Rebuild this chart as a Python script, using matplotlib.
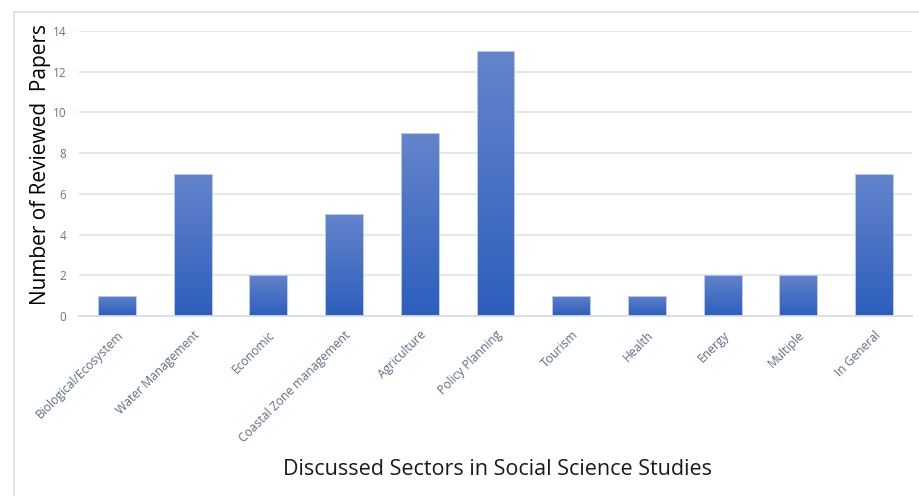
import matplotlib
matplotlib.use("Agg")
import matplotlib.pyplot as plt
import numpy as np
from matplotlib.patches import Rectangle

sectors = ["Biological/Ecosystem", "Water Management", "Economic",
           "Coastal Zone management", "Agriculture", "Policy Planning",
           "Tourism", "Health", "Energy", "Multiple", "In General"]
papers = [1, 7, 2, 5, 9, 13, 1, 1, 2, 2, 7]
y_ticks = [0, 2, 4, 6, 8, 10, 12, 14]

plt.rcParams['font.family'] = ['Open Sans', 'DejaVu Sans']

fig = plt.figure(figsize=(9.2, 4.96), dpi=100)
ax = fig.add_axes([0.0859, 0.3629, 0.9054, 0.5746])

# outer chart frame
fig.patches.append(Rectangle((14 / 920, -0.1), 1.0, 1 - 12 / 496 + 0.1,
                             transform=fig.transFigure, fill=False,
                             edgecolor="#d9dde6", linewidth=1.2))

x = np.arange(len(sectors))
width = 0.5
bars = ax.bar(x, papers, width=width, color="none",
              edgecolor="#bccbec", linewidth=0.7, zorder=3)

# vertical gradient fill inside each bar, clipped to the bar outline
grad = np.linspace(0, 1, 256).reshape(-1, 1)
cmap = matplotlib.colors.LinearSegmentedColormap.from_list(
    "barfill", ["#2d5ebd", "#6585cb"])
for rect in bars:
    x0 = rect.get_x()
    h = rect.get_height()
    im = ax.imshow(grad, extent=[x0 - 0.05, x0 + rect.get_width() + 0.05,
                                 0, h + 0.1],
                   origin="lower", aspect="auto", cmap=cmap, zorder=2,
                   interpolation="bilinear")
    im.set_clip_path(rect)

ax.set_xlim(-0.5, len(sectors) - 0.5)
ax.set_ylim(0, 14)
ax.set_yticks(y_ticks)
ax.yaxis.grid(True, color="#e1e5ed", linewidth=1.3, zorder=0)
ax.set_axisbelow(True)
for side in ["top", "right", "left"]:
    ax.spines[side].set_visible(False)
ax.spines["bottom"].set_color("#d9dde6")
ax.spines["bottom"].set_linewidth(1.3)
ax.tick_params(axis="both", length=0, colors="#66768f", labelsize=8.5)
ax.tick_params(axis="y", pad=9)

ax.set_xticks(x)
ax.set_xticklabels(sectors, rotation=45, ha="right", va="top",
                   rotation_mode="anchor", color="#5d6d87", fontsize=8.7)
ax.tick_params(axis="x", pad=9)

ax.set_ylabel("Number of Reviewed  Papers", fontsize=15, color="black")
ax.yaxis.set_label_coords(-0.034, 0.53)
ax.set_xlabel("Discussed Sectors in Social Science Studies", fontsize=15.5,
              color="#1a1a1a")
ax.xaxis.set_label_coords(0.502, -0.50)

fig.savefig("out.png", dpi=100)
